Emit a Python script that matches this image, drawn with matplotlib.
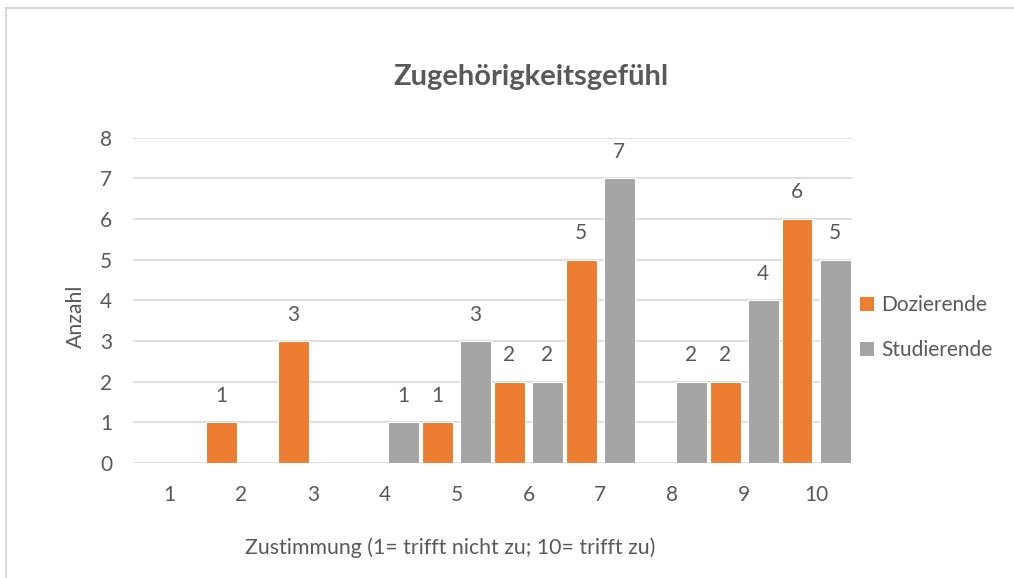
import matplotlib
matplotlib.use("Agg")
import matplotlib.pyplot as plt
import numpy as np
from matplotlib.lines import Line2D
from matplotlib.patches import Patch

categories = ["1", "2", "3", "4", "5", "6", "7", "8", "9", "10"]
dozierende = [0, 1, 3, 0, 1, 2, 5, 0, 2, 6]
studierende = [0, 0, 0, 1, 3, 2, 7, 2, 4, 5]
series_names = ["Dozierende", "Studierende"]
yticks = [0, 1, 2, 3, 4, 5, 6, 7, 8]

title = "Zugehörigkeitsgefühl"
xlabel = "Zustimmung (1= trifft nicht zu; 10= trifft zu)"
ylabel = "Anzahl"

c_orange = "#ED7D31"
c_gray = "#A5A5A5"
txt = "#595959"
grid_c = "#D9D9D9"

plt.rcParams["font.family"] = ["Lato", "DejaVu Sans"]

W, H = 1014, 578
fig = plt.figure(figsize=(W / 100, H / 100), dpi=100)
fig.patch.set_facecolor("white")

x0, x1, ytop, ybot = 133, 852, 137.5, 463
ax = fig.add_axes([x0 / W, 1 - ybot / H, (x1 - x0) / W, (ybot - ytop) / H])

x = np.arange(len(categories))
off = 0.265
bw = 0.43
b1 = ax.bar(x - off, dozierende, bw, color=c_orange, edgecolor="white", linewidth=0.8, zorder=3)
b2 = ax.bar(x + off, studierende, bw, color=c_gray, edgecolor="white", linewidth=0.8, zorder=3)

for bars, vals in ((b1, dozierende), (b2, studierende)):
    for r, v in zip(bars, vals):
        if v > 0:
            ax.annotate(str(v), (r.get_x() + r.get_width() / 2, v), xytext=(0, 19),
                        textcoords="offset points", ha="center", va="center",
                        fontsize=15, color=txt)

ax.set_xlim(-0.5, len(categories) - 0.5)
ax.set_ylim(0, 8)
ax.set_yticks(yticks)
ax.set_xticks(x)
ax.set_xticklabels(categories)
ax.yaxis.grid(True, color=grid_c, linewidth=1.2, zorder=0)
ax.set_axisbelow(True)
for s in ax.spines.values():
    s.set_visible(False)
ax.tick_params(axis="both", length=0, labelsize=15, labelcolor=txt)
ax.tick_params(axis="x", pad=16)
ax.tick_params(axis="y", pad=15)

fig.text(531 / W, 1 - 77 / H, title, ha="center", va="center", fontsize=21,
         fontweight="bold", color=txt)
fig.text(450 / W, 1 - 548 / H, xlabel, ha="center", va="center", fontsize=15.3, color=txt)
fig.text(76 / W, 1 - 316 / H, ylabel, ha="center", va="center", fontsize=15.3,
         color=txt, rotation=90)

handles = [Patch(facecolor=c_orange, edgecolor="none"), Patch(facecolor=c_gray, edgecolor="none")]
leg = fig.legend(handles, series_names, loc="center left", bbox_to_anchor=(850 / W, 1 - 327.5 / H),
                 frameon=False, fontsize=15, labelcolor=txt, handlelength=0.65, handleheight=0.65,
                 handletextpad=0.35, labelspacing=1.2, borderpad=0.0)

# outer frame
fig.add_artist(Line2D([6 / W, 1], [1 - 8 / H, 1 - 8 / H], transform=fig.transFigure,
                      color="#D9D9D9", linewidth=1.5))
fig.add_artist(Line2D([6 / W, 6 / W], [0, 1 - 8 / H], transform=fig.transFigure,
                      color="#D9D9D9", linewidth=1.5))

fig.savefig("out.png", dpi=100)
